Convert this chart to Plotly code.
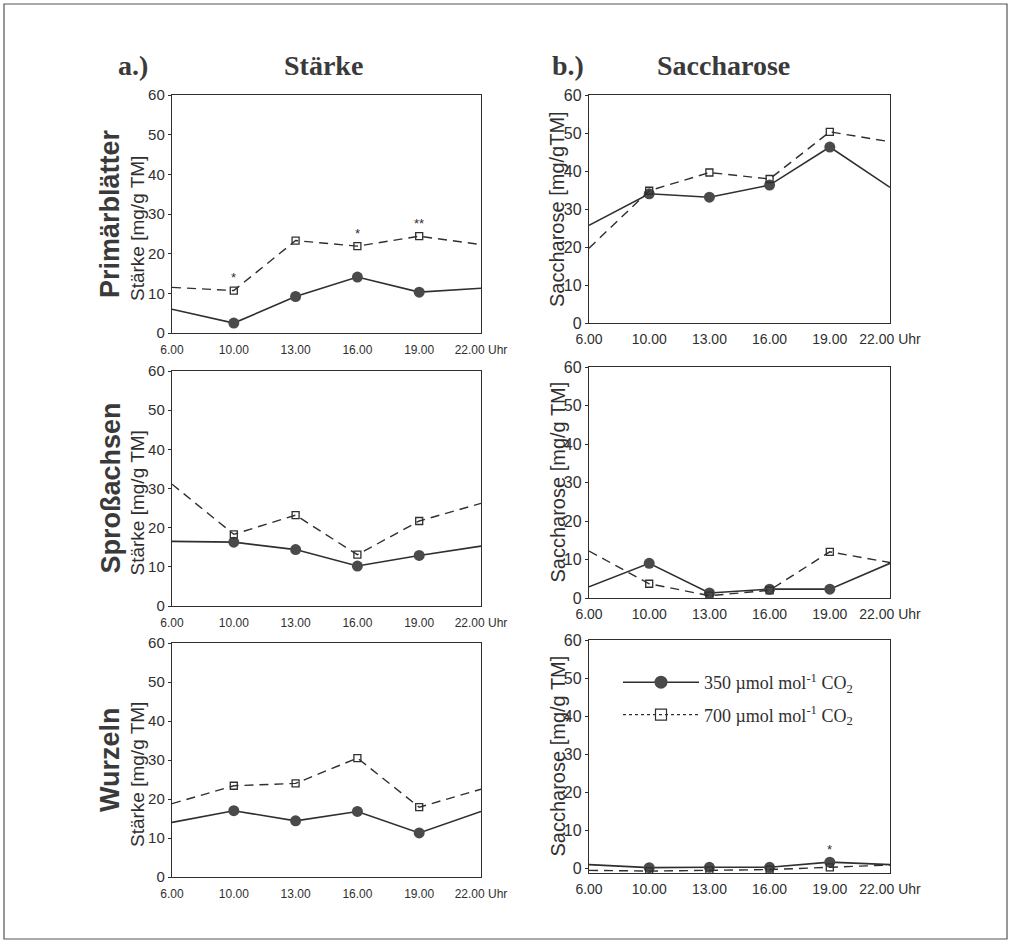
import plotly.graph_objects as go

# ---------------- data ----------------
times = ["6.00", "10.00", "13.00", "16.00", "19.00", "22.00 Uhr"]

staerke_prim_350 = [6.0, 2.5, 9.2, 14.1, 10.3, 11.3]
staerke_prim_700 = [11.5, 10.7, 23.3, 21.9, 24.4, 22.3]
sacch_prim_350 = [25.7, 34.0, 33.1, 36.3, 46.3, 35.7]
sacch_prim_700 = [19.7, 34.8, 39.6, 37.9, 50.3, 47.7]

staerke_spross_350 = [16.5, 16.3, 14.4, 10.2, 12.9, 15.3]
staerke_spross_700 = [31.1, 18.3, 23.2, 13.1, 21.7, 26.2]
sacch_spross_350 = [2.9, 9.0, 1.3, 2.3, 2.3, 9.0]
sacch_spross_700 = [12.2, 3.7, 0.6, 2.0, 12.0, 9.2]

staerke_wurzel_350 = [14.0, 17.0, 14.4, 16.8, 11.3, 16.8]
staerke_wurzel_700 = [18.8, 23.4, 24.0, 30.5, 17.9, 22.5]
sacch_wurzel_350 = [1.1, 0.3, 0.4, 0.4, 1.75, 1.1]
sacch_wurzel_700 = [-0.4, -0.6, -0.4, -0.2, 0.4, 1.0]

row_labels = ["Primärblätter", "Sproßachsen", "Wurzeln"]
staerke_title = "Stärke [mg/g TM]"
sacch_titles = ["Saccharose [mg/gTM]", "Saccharose [mg/g TM]", "Saccharose [mg/g TM]"]
legend_names = ["350 µmol mol<sup>-1</sup> CO<sub>2</sub>", "700 µmol mol<sup>-1</sup> CO<sub>2</sub>"]

# significance stars: (panel index, time index, series, text)
stars = [(0, 1, "700", "*"), (0, 3, "700", "*"), (0, 4, "700", "**"), (5, 4, "350", "*")]

# ---------------- layout helpers ----------------
W, H = 1013, 942
def px_x(a, b):
    return [a / W, b / W]
def px_y(top, bottom):
    return [1 - bottom / H, 1 - top / H]

panels = [
    # (x-domain px, y-domain px, y-range, data350, data700, column)
    (px_x(172, 481), px_y(95, 333), [0, 60], staerke_prim_350, staerke_prim_700, "a"),
    (px_x(589, 890), px_y(95, 323), [0, 60], sacch_prim_350, sacch_prim_700, "b"),
    (px_x(172, 481), px_y(371, 606), [0, 60], staerke_spross_350, staerke_spross_700, "a"),
    (px_x(589, 890), px_y(367, 598), [0, 60], sacch_spross_350, sacch_spross_700, "b"),
    (px_x(172, 481), px_y(643, 877), [0, 60], staerke_wurzel_350, staerke_wurzel_700, "a"),
    (px_x(589, 890), px_y(640, 873), [-1.1, 60], sacch_wurzel_350, sacch_wurzel_700, "b"),
]

INK = "#2f2f2f"
SANS = "Liberation Sans, Arial, sans-serif"
SERIF = "Liberation Serif, Times New Roman, serif"

fig = go.Figure()
xs = list(range(len(times)))
layout = {}
annotations = []

for i, (xd, yd, yr, d350, d700, col) in enumerate(panels):
    n = i + 1
    xa = "x" if n == 1 else f"x{n}"
    ya = "y" if n == 1 else f"y{n}"
    # 350 series
    fig.add_trace(go.Scatter(x=xs, y=d350, mode="lines", xaxis=xa, yaxis=ya,
                             line=dict(color=INK, width=1.6), showlegend=False, hoverinfo="skip"))
    fig.add_trace(go.Scatter(x=xs[1:-1], y=d350[1:-1], mode="markers", xaxis=xa, yaxis=ya,
                             marker=dict(symbol="circle", size=11, color="#4a4a4a",
                                         line=dict(width=0)), showlegend=False))
    # 700 series
    fig.add_trace(go.Scatter(x=xs, y=d700, mode="lines", xaxis=xa, yaxis=ya,
                             line=dict(color=INK, width=1.4, dash="9px,6px"),
                             showlegend=False, hoverinfo="skip"))
    fig.add_trace(go.Scatter(x=xs[1:-1], y=d700[1:-1], mode="markers", xaxis=xa, yaxis=ya,
                             marker=dict(symbol="square-open", size=7, color=INK,
                                         line=dict(width=1.3)), showlegend=False))

    tickfont_x = dict(family=SANS, size=12 if col == "a" else 14, color=INK)
    tickfont_y = dict(family=SANS, size=15 if col == "a" else 16, color=INK)
    key = "" if n == 1 else str(n)
    layout["xaxis" + key] = dict(domain=xd, range=[0, 5], anchor=ya, tickmode="array",
                                 tickvals=xs, ticktext=times, showgrid=False, zeroline=False,
                                 showline=True, linecolor=INK, linewidth=1.4, mirror=True,
                                 ticks="", tickfont=tickfont_x, fixedrange=True, automargin=False,
                                 ticklabelstandoff=5 if col == "a" else 3)
    layout["yaxis" + key] = dict(domain=yd, range=yr, anchor=xa, tickvals=[0, 10, 20, 30, 40, 50, 60],
                                 showgrid=False, zeroline=False, showline=True, linecolor=INK,
                                 linewidth=1.4, mirror=True, ticks="outside", ticklen=3,
                                 tickcolor=INK, tickfont=tickfont_y, fixedrange=True, automargin=False)

    row = i // 2
    if col == "a":
        annotations.append(dict(text=staerke_title, textangle=-90, xref="paper", yref=ya + " domain",
                                x=137 / W, y=0.5, yshift=-15, showarrow=False,
                                xanchor="center", yanchor="middle",
                                font=dict(family=SANS, size=19, color=INK)))
        annotations.append(dict(text="<b>" + row_labels[row] + "</b>", textangle=-90, xref="paper",
                                yref=ya + " domain", x=110 / W, y=0.5, showarrow=False,
                                xanchor="center", yanchor="middle",
                                font=dict(family=SANS, size=27, color="#3a3a3a")))
    else:
        annotations.append(dict(text=sacch_titles[row], textangle=-90, xref="paper", yref=ya + " domain",
                                x=557 / W, y=0.5, showarrow=False,
                                xanchor="center", yanchor="middle",
                                font=dict(family=SANS, size=20, color=INK)))

# stars
for (p, t, series, txt) in stars:
    d = panels[p][3] if series == "350" else panels[p][4]
    n = p + 1
    annotations.append(dict(text=txt, x=xs[t], y=d[t], xref="x" if n == 1 else f"x{n}",
                            yref="y" if n == 1 else f"y{n}", yshift=13, showarrow=False,
                            xanchor="center", yanchor="middle",
                            font=dict(family=SANS, size=13, color=INK)))

# column titles
for txt, xp in [("a.)", 133), ("Stärke", 323), ("b.)", 568), ("Saccharose", 723)]:
    annotations.append(dict(text="<b>" + txt + "</b>", xref="paper", yref="paper", x=xp / W,
                            y=1 - 66 / H, showarrow=False, xanchor="center", yanchor="middle",
                            font=dict(family=SERIF, size=28, color="#3a3a3a")))

# legend-only traces
fig.add_trace(go.Scatter(x=[None], y=[None], mode="lines+markers", name=legend_names[0],
                         xaxis="x6", yaxis="y6", line=dict(color=INK, width=1.6),
                         marker=dict(symbol="circle", size=13, color="#4a4a4a"), legendgroup="a"))
fig.add_trace(go.Scatter(x=[None], y=[None], mode="lines+markers", name=legend_names[1],
                         xaxis="x6", yaxis="y6", line=dict(color=INK, width=1.2, dash="dot"),
                         marker=dict(symbol="square-open", size=11, color=INK, line=dict(width=1.2)),
                         legendgroup="b"))

fig.update_layout(
    width=W, height=H, margin=dict(l=0, r=0, t=0, b=0, autoexpand=False),
    paper_bgcolor="white", plot_bgcolor="white",
    annotations=annotations,
    legend=dict(x=618 / W, y=1 - 664 / H, xanchor="left", yanchor="top",
                bgcolor="rgba(0,0,0,0)", font=dict(family=SERIF, size=18, color=INK),
                tracegroupgap=6, itemwidth=76),
    shapes=[dict(type="rect", xref="paper", yref="paper", x0=4 / W, x1=1007 / W,
                 y0=1 - 939 / H, y1=1 - 4 / H, line=dict(color="#555", width=1.2))],
    **layout,
)

fig.write_html("out.html")
